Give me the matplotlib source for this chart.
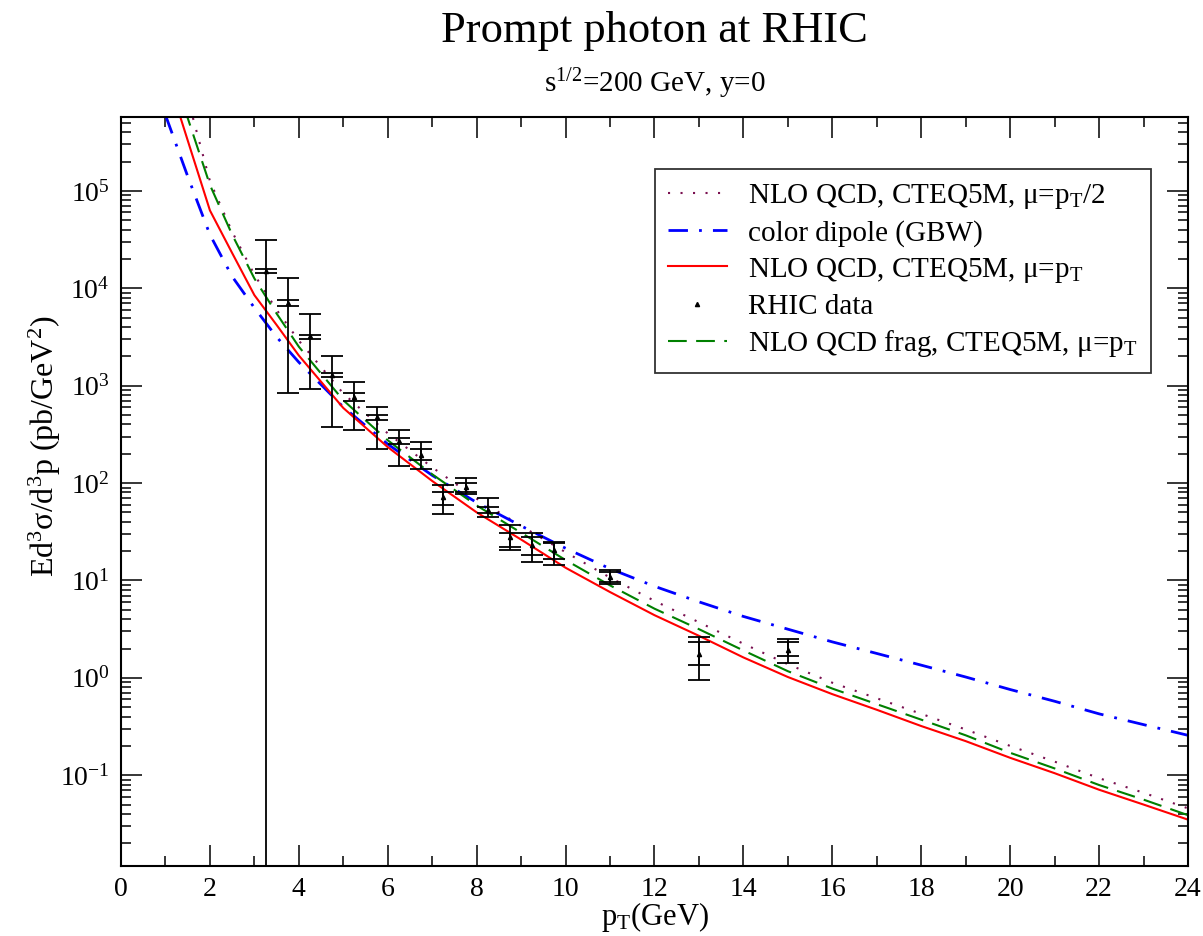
import numpy as np
import matplotlib
matplotlib.use('Agg')
import matplotlib.pyplot as plt
from matplotlib.lines import Line2D
from matplotlib.ticker import MultipleLocator, LogLocator, NullFormatter

plt.rcParams['font.family'] = ['Liberation Serif', 'DejaVu Serif']
plt.rcParams['mathtext.fontset'] = 'custom'
plt.rcParams['mathtext.rm'] = 'Liberation Serif'
plt.rcParams['mathtext.it'] = 'Liberation Serif:italic'
plt.rcParams['mathtext.default'] = 'regular'

# theory curves (pT grid in GeV)
pt_curve = [1, 1.5, 2, 2.5, 3, 3.5, 4, 5, 6, 7, 8, 9, 10, 11, 12, 13, 14, 15,
            16, 17, 18, 19, 20, 21, 22, 23, 24]
nlo_half = [4.0e6, 8.9e5, 1.26e5, 3.8e4, 1.38e4, 6.0e3, 2.9e3, 832, 324, 145,
            69.2, 36.3, 19.5, 10.7, 6.17, 3.72, 2.24, 1.38, 0.891, 0.617,
            0.427, 0.295, 0.200, 0.138, 0.0933, 0.0661, 0.0457]
dipole = [6.0e5, 1.41e5, 3.55e4, 1.32e4, 6.3e3, 3.16e3, 1.74e3, 603, 251, 120,
          63.1, 36.3, 21.4, 13.2, 8.71, 6.03, 4.27, 3.16, 2.34, 1.78, 1.35,
          1.02, 0.759, 0.575, 0.427, 0.331, 0.257]
nlo_pt = [1.74e6, 3.3e5, 6.3e4, 2.3e4, 8.5e3, 4.2e3, 2.04e3, 590, 234, 105,
          50, 26.3, 13.5, 7.6, 4.4, 2.7, 1.62, 1.02, 0.68, 0.47, 0.32, 0.224,
          0.151, 0.105, 0.071, 0.050, 0.035]
nlo_frag = [2.5e6, 5.6e5, 1.15e5, 3.55e4, 1.26e4, 5.5e3, 2.51e3, 708, 275, 123,
            58.9, 30.9, 16.2, 8.9, 5.13, 3.16, 1.91, 1.17, 0.776, 0.537, 0.372,
            0.257, 0.170, 0.1175, 0.0794, 0.0562, 0.0389]

# RHIC data: value, inner (stat) band, outer (total) band
pt_data = [3.25, 3.75, 4.25, 4.75, 5.25, 5.75, 6.25, 6.75, 7.25, 7.75, 8.25,
           8.75, 9.25, 9.75, 11, 13, 15]
y_data = [1.50e4, 7.1e3, 3.2e3, 1.30e3, 769, 473, 271, 195, 72.5, 91.8, 52.9,
          28.1, 23.1, 20.5, 10.9, 1.77, 1.92]
in_lo = [1.42e4, 6.6e3, 3.0e3, 1.24e3, 688, 446, 253, 173, 59.5, 81.5, 49.2,
         22.0, 18.2, 16.6, 9.6, 1.35, 1.66]
in_hi = [1.58e4, 7.5e3, 3.34e3, 1.35e3, 840, 502, 289, 223, 81.5, 99.5, 57.2,
         30.7, 28.1, 24.2, 12.3, 2.34, 2.34]
out_lo = [1e-3, 840, 930, 375, 352, 223, 150, 139, 48, 77.3, 45.1, 20.5, 15.5,
          14.4, 9.3, 0.94, 1.42]
out_hi = [3.1e4, 1.27e4, 5.4e3, 2.04e3, 1.10e3, 603, 352, 261, 95.7, 112, 69.8,
          37, 30.4, 24.9, 12.8, 2.63, 2.53]

fig = plt.figure(figsize=(12.03, 9.36), dpi=100)
ax = fig.add_axes([0.1006, 0.0748, 0.8869, 0.8007])

l1, = ax.plot(pt_curve, nlo_half, color='#7a1050', lw=1.5, ls=(0, (1, 5)),
              label=r'NLO QCD, CTEQ5M, μ=p$_{T}$/2')
l2, = ax.plot(pt_curve, dipole, color='#0000ff', lw=2.0, ls=(0, (7, 4, 1, 4)),
              label='color dipole (GBW)')
l3, = ax.plot(pt_curve, nlo_pt, color='#ff0000', lw=1.5,
              label=r'NLO QCD, CTEQ5M, μ=p$_{T}$')
l5, = ax.plot(pt_curve, nlo_frag, color='#008000', lw=1.5, ls=(0, (9, 4.5)),
              label=r'NLO QCD frag, CTEQ5M, μ=p$_{T}$')

y = np.array(y_data)
ax.errorbar(pt_data, y, yerr=[y - np.array(out_lo), np.array(out_hi) - y],
            fmt='none', ecolor='k', elinewidth=1.3, capsize=8, capthick=1.3)
ax.errorbar(pt_data, y, yerr=[y - np.array(in_lo), np.array(in_hi) - y],
            fmt='none', ecolor='k', elinewidth=1.3, capsize=8, capthick=1.3)
ax.plot(pt_data, y, '^', color='k', ms=3)
l4 = Line2D([], [], ls='none', marker='^', ms=3, color='k', label='RHIC data')

ax.set_yscale('log')
ax.set_xlim(0, 24)
ax.set_ylim(0.0117, 5.8e5)
ax.xaxis.set_major_locator(MultipleLocator(2))
ax.xaxis.set_minor_locator(MultipleLocator(1))
ax.set_yticks([1e-1, 1, 1e1, 1e2, 1e3, 1e4, 1e5])
ax.yaxis.set_minor_locator(LogLocator(base=10, subs=np.arange(2, 10), numticks=20))
ax.yaxis.set_minor_formatter(NullFormatter())
ax.tick_params(which='both', direction='in', top=True, right=True,
               labelsize=20, width=1.1)
ax.tick_params(which='major', length=15, pad=8)
ax.tick_params(which='minor', length=7.5)
for s in ax.spines.values():
    s.set_linewidth(1.5)

ax.set_xlabel(r'p$_{T}$(GeV)', fontsize=22)
ax.xaxis.set_label_coords(0.5, -0.045)
ax.set_ylabel(r'Ed$^3$σ/d$^3$p (pb/GeV$^2$)', fontsize=23)
ax.yaxis.set_label_coords(-0.054, 0.56)

fig.text(0.5443, 0.9555, 'Prompt photon at RHIC', ha='center', va='baseline',
         fontsize=32)
fig.text(0.5443, 0.901, r's$^{1/2}$=200 GeV, y=0', ha='center', va='baseline',
         fontsize=21)

leg = ax.legend(handles=[l1, l2, l3, l4, l5], loc='upper right',
                bbox_to_anchor=(0.9653, 0.930), borderaxespad=0, fontsize=21,
                frameon=True, fancybox=False, handlelength=2.0,
                handletextpad=0.75, labelspacing=0.3, borderpad=0.45)
leg.get_frame().set_edgecolor('k')
leg.get_frame().set_linewidth(1.3)

fig.savefig('out.png', dpi=100)
